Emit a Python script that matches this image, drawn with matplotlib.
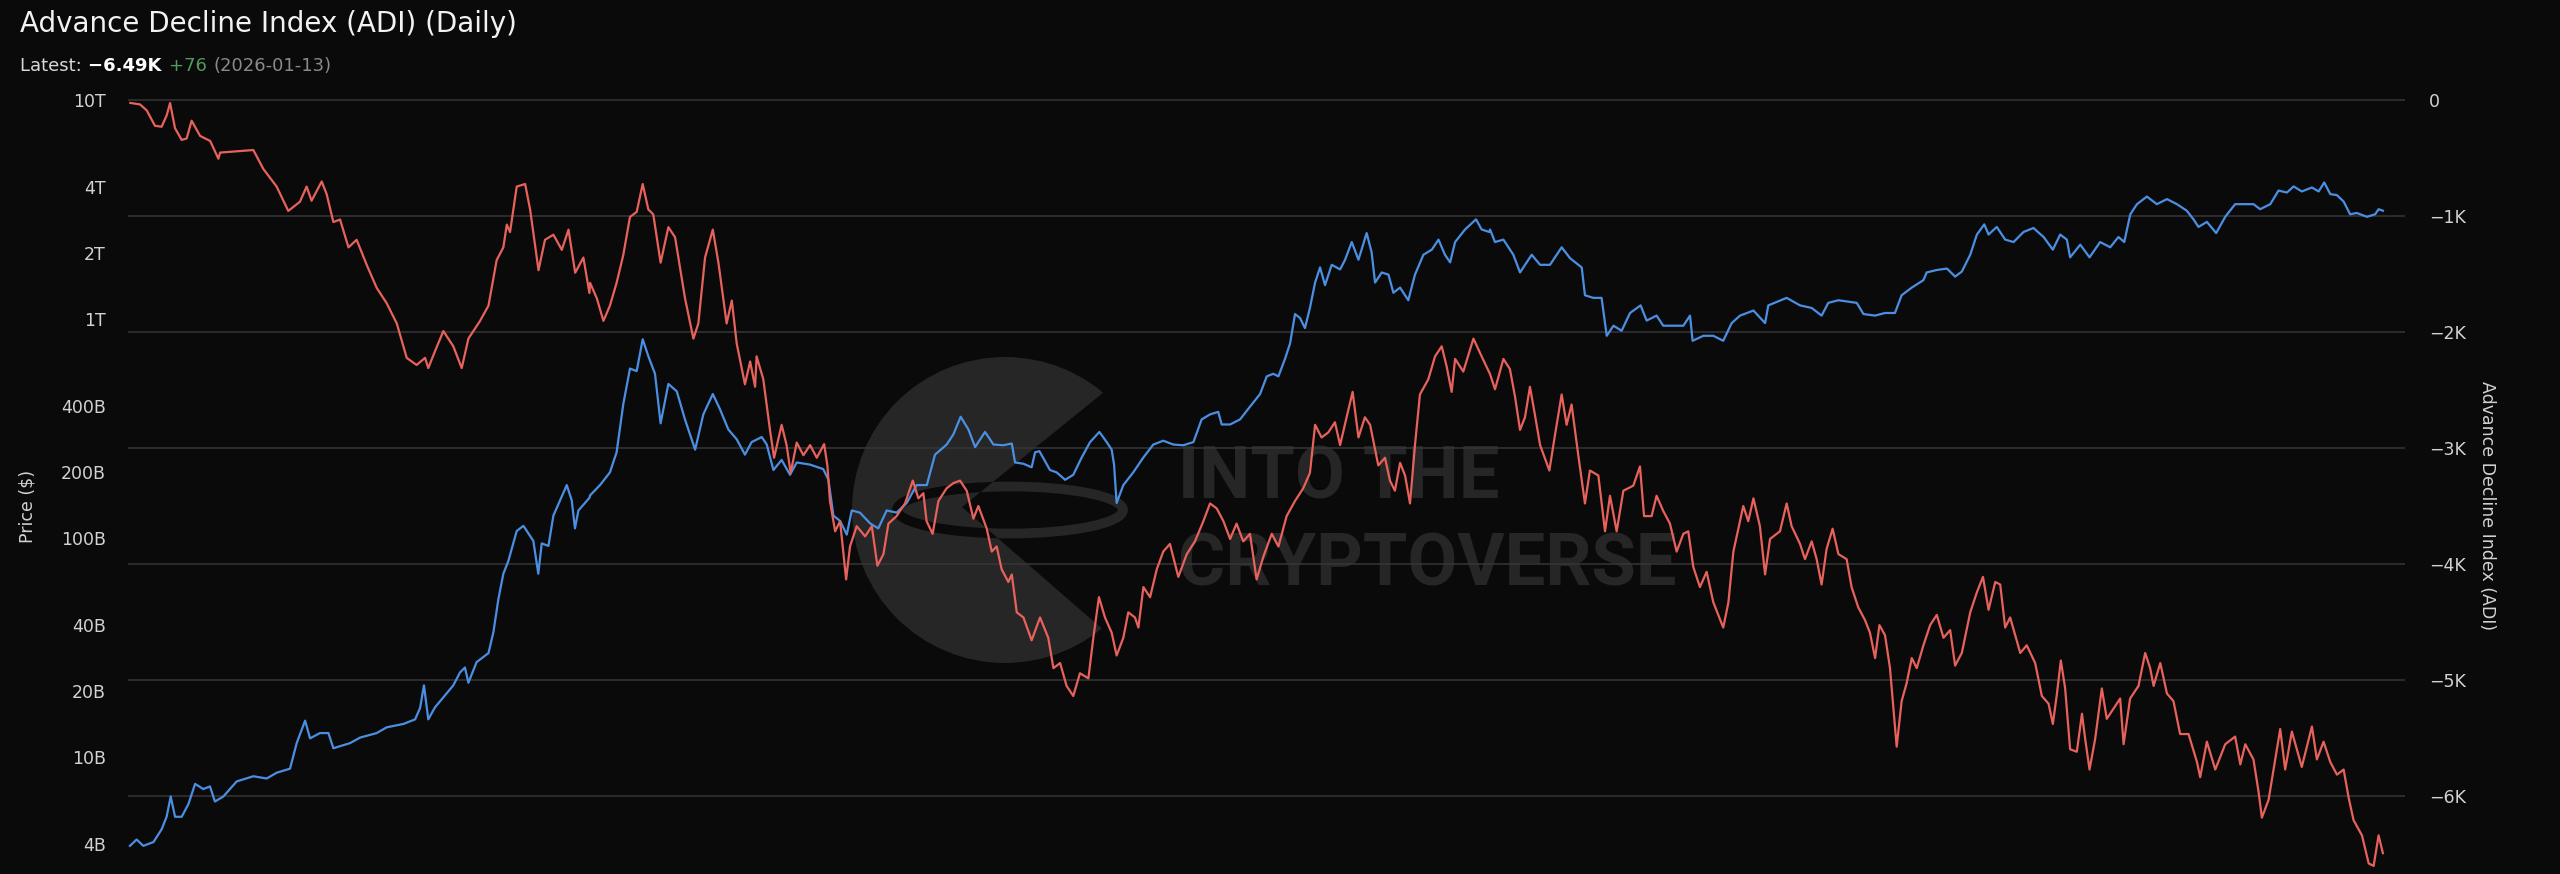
import matplotlib
matplotlib.use("Agg")
import matplotlib.pyplot as plt
import matplotlib.transforms as mtransforms
from matplotlib.patches import Wedge, Ellipse, Circle
from matplotlib.ticker import FixedLocator, NullLocator

# Advance Decline Index (ADI), values in units
adi_year = [
    2015.63, 2015.675, 2015.706, 2015.744, 2015.775, 2015.798, 2015.814, 2015.837, 2015.868, 2015.891,
    2015.914, 2015.953, 2016.0, 2016.038, 2016.046, 2016.2, 2016.246, 2016.308, 2016.362, 2016.416,
    2016.447, 2016.47, 2016.517, 2016.54, 2016.571, 2016.602, 2016.641, 2016.679, 2016.726, 2016.772,
    2016.818, 2016.865, 2016.911, 2016.957, 2016.996, 2017.011, 2017.042, 2017.081, 2017.127, 2017.166,
    2017.197, 2017.251, 2017.29, 2017.328, 2017.359, 2017.375, 2017.39, 2017.421, 2017.46, 2017.483,
    2017.522, 2017.552, 2017.591, 2017.63, 2017.661, 2017.692, 2017.73, 2017.758,
    2017.761, 2017.792, 2017.823, 2017.853, 2017.884, 2017.915, 2017.946, 2017.977, 2018.005, 2018.031,
    2018.054, 2018.088, 2018.124, 2018.155, 2018.201, 2018.24, 2018.263, 2018.294, 2018.33, 2018.356,
    2018.394, 2018.418, 2018.441, 2018.479, 2018.503, 2018.526, 2018.533, 2018.564, 2018.595, 2018.614,
    2018.649, 2018.672, 2018.691, 2018.719, 2018.75, 2018.781, 2018.812, 2018.846, 2018.861, 2018.873,
    2018.897, 2018.92, 2018.948, 2018.966, 2018.997, 2019.036, 2019.067, 2019.093, 2019.121, 2019.144,
    2019.182, 2019.221, 2019.257, 2019.283, 2019.306, 2019.321, 2019.349, 2019.376, 2019.414, 2019.445,
    2019.476, 2019.507, 2019.538, 2019.561, 2019.6, 2019.623, 2019.646, 2019.669, 2019.7, 2019.716,
    2019.739, 2019.77, 2019.808,
    2019.847, 2019.885, 2019.909, 2019.94, 2019.97, 2020.001, 2020.032, 2020.071, 2020.094, 2020.12,
    2020.148, 2020.179, 2020.202, 2020.233, 2020.256, 2020.287, 2020.303, 2020.326, 2020.357, 2020.388,
    2020.418, 2020.449, 2020.488, 2020.527, 2020.565, 2020.604, 2020.635, 2020.666, 2020.697, 2020.728,
    2020.758, 2020.789, 2020.82, 2020.851, 2020.882, 2020.921, 2020.952, 2020.99, 2021.029, 2021.067,
    2021.098, 2021.122, 2021.152, 2021.183, 2021.214, 2021.238, 2021.268, 2021.296, 2021.323, 2021.353,
    2021.377, 2021.415, 2021.446, 2021.469, 2021.492, 2021.516, 2021.539, 2021.562, 2021.585, 2021.608,
    2021.647, 2021.678, 2021.709, 2021.732, 2021.755, 2021.771, 2021.809, 2021.856, 2021.894,
    2021.933, 2021.956, 2021.995, 2022.025, 2022.049, 2022.072, 2022.095, 2022.118, 2022.141, 2022.165,
    2022.208, 2022.234, 2022.265, 2022.288, 2022.311, 2022.342, 2022.373, 2022.396, 2022.435, 2022.466,
    2022.489, 2022.52, 2022.551, 2022.597, 2022.628, 2022.647, 2022.682, 2022.705, 2022.736, 2022.767,
    2022.798, 2022.829, 2022.852, 2022.875, 2022.906, 2022.937, 2022.968, 2023.014, 2023.038, 2023.061,
    2023.107, 2023.13, 2023.154, 2023.184, 2023.208, 2023.231, 2023.277, 2023.308, 2023.331, 2023.37,
    2023.393, 2023.424, 2023.447, 2023.47, 2023.493, 2023.521, 2023.548, 2023.586, 2023.609, 2023.64,
    2023.671, 2023.694, 2023.718, 2023.738, 2023.764, 2023.787, 2023.818, 2023.841, 2023.864, 2023.888,
    2023.911, 2023.942, 2023.973, 2024.004,
    2024.035, 2024.066, 2024.089, 2024.12, 2024.159, 2024.19, 2024.218, 2024.244, 2024.275, 2024.298,
    2024.321, 2024.344, 2024.391, 2024.421, 2024.46, 2024.491, 2024.522, 2024.542, 2024.561, 2024.579,
    2024.599, 2024.622, 2024.653, 2024.677, 2024.692, 2024.712, 2024.738, 2024.769, 2024.792, 2024.823,
    2024.854, 2024.87, 2024.9, 2024.939, 2024.97, 2024.993, 2025.009, 2025.04, 2025.071, 2025.101,
    2025.132, 2025.171, 2025.21, 2025.225, 2025.256, 2025.295, 2025.341, 2025.387, 2025.411, 2025.434,
    2025.472, 2025.496, 2025.511, 2025.542, 2025.565, 2025.596, 2025.619, 2025.65, 2025.696, 2025.743,
    2025.766, 2025.797, 2025.828, 2025.859, 2025.89, 2025.913, 2025.936, 2025.975, 2026.006, 2026.029,
    2026.052, 2026.072,
]
adi_value = [
    -22, -35, -87, -219, -227, -131, -22, -240, -341, -328,
    -175, -306, -350, -503, -450, -428, -590, -743, -953, -874,
    -743, -865, -699, -809, -1049, -1027, -1267, -1202, -1420, -1617,
    -1748, -1923, -2220, -2281, -2220, -2308, -2163, -1989, -2120, -2308,
    -2054, -1901, -1770, -1377, -1267, -1071, -1136, -743, -721, -940,
    -1464, -1202, -1158, -1289, -1114, -1486, -1355, -1661,
    -1573, -1705, -1901, -1770, -1573, -1333, -1005, -962, -721, -940,
    -983, -1399, -1093, -1180, -1705, -2054, -1923, -1355, -1114, -1399,
    -1923, -1726, -2098, -2448, -2251, -2469, -2207, -2404, -2841, -3081,
    -2797, -2972, -3212, -2950, -3059, -2972, -3081, -2963, -3147, -3453,
    -3715, -3628, -4130, -3846, -3671, -3759, -3671, -4012, -3912, -3649,
    -3584, -3475, -3278, -3431, -3387, -3628, -3737, -3453, -3344, -3300,
    -3278, -3365, -3606, -3497, -3693, -3890, -3846, -4043, -4152, -4087,
    -4414, -4458, -4655,
    -4458, -4633, -4895, -4851, -5048, -5135, -4939, -4983, -4633, -4283,
    -4458, -4589, -4786, -4633, -4414, -4458, -4545, -4196, -4283, -4043,
    -3890, -3824, -4108, -3912, -3802, -3628, -3475, -3518, -3628, -3781,
    -3649, -3802, -3737, -4130, -3934, -3737, -3846, -3584, -3453, -3344,
    -3212, -2797, -2906, -2863, -2775, -2972, -2732, -2513, -2906, -2732,
    -2797, -3147, -3081, -3278, -3365, -3125, -3234, -3475, -2972, -2535,
    -2404, -2207, -2120, -2295, -2513, -2229, -2338, -2054, -2207,
    -2360, -2491, -2229, -2316, -2557, -2841, -2732, -2469, -2710, -2972,
    -3191, -2885, -2535, -2797, -2622, -3059, -3475, -3191, -3234, -3715,
    -3409, -3715, -3365, -3322, -3156, -3584, -3584, -3409, -3540, -3649,
    -3890, -3737, -3715, -4021, -4196, -4065, -4327, -4545, -4327, -3890,
    -3497, -3628, -3431, -3671, -4087, -3781, -3715, -3475, -3671, -3824,
    -3955, -3802, -3955, -4174, -3868, -3693, -3912, -3955, -4196, -4371,
    -4480, -4589, -4808, -4524, -4611, -4895, -5572, -5179, -5026, -4808,
    -4895, -4698, -4524, -4436,
    -4633, -4567, -4873, -4764, -4414, -4240, -4108, -4392, -4152, -4174,
    -4545, -4458, -4764, -4698, -4851, -5135, -5201, -5376, -5114, -4829,
    -5070, -5594, -5616, -5288, -5507, -5769, -5507, -5070, -5332, -5245,
    -5157, -5551, -5157, -5048, -4764, -4895, -5048, -4851, -5114, -5179,
    -5463, -5463, -5704, -5835, -5529, -5769, -5551, -5485, -5725, -5551,
    -5682, -5966, -6184, -6031, -5769, -5420, -5769, -5442, -5747, -5398,
    -5682, -5529, -5704, -5813, -5769, -6010, -6206, -6337, -6578, -6600,
    -6337, -6490,
]

# Price (total market cap), values in billions of dollars
cap_year = [
    2015.628, 2015.659, 2015.69, 2015.737, 2015.775, 2015.798, 2015.817, 2015.837, 2015.868, 2015.899,
    2015.93, 2015.968, 2015.999, 2016.022, 2016.061, 2016.123, 2016.2, 2016.262, 2016.308, 2016.37,
    2016.401, 2016.44, 2016.463, 2016.509, 2016.548, 2016.571, 2016.648, 2016.695, 2016.772, 2016.818,
    2016.896, 2016.95, 2016.973, 2016.991, 2017.011, 2017.042, 2017.089, 2017.127, 2017.158, 2017.181,
    2017.197, 2017.235, 2017.29, 2017.313, 2017.336, 2017.359, 2017.382, 2017.421, 2017.452, 2017.498,
    2017.521, 2017.537, 2017.568, 2017.591, 2017.653, 2017.676, 2017.691, 2017.707, 2017.758,
    2017.761, 2017.807, 2017.853, 2017.884, 2017.915, 2017.946, 2017.977, 2018.005, 2018.031, 2018.062,
    2018.088, 2018.124, 2018.163, 2018.201, 2018.248, 2018.286, 2018.33, 2018.363, 2018.402, 2018.441,
    2018.479, 2018.51, 2018.557, 2018.58, 2018.611, 2018.649, 2018.688, 2018.719, 2018.781, 2018.842,
    2018.866, 2018.889, 2018.92, 2018.951, 2018.974, 2019.012, 2019.059, 2019.097, 2019.136, 2019.182,
    2019.229, 2019.275, 2019.322, 2019.36, 2019.414, 2019.445, 2019.479, 2019.515, 2019.546, 2019.592,
    2019.631, 2019.677, 2019.716, 2019.731, 2019.77, 2019.808, 2019.824, 2019.844,
    2019.847, 2019.893, 2019.924, 2019.963, 2020.001, 2020.04, 2020.079, 2020.122, 2020.156, 2020.179,
    2020.19, 2020.202, 2020.233, 2020.279, 2020.326, 2020.372, 2020.418, 2020.465, 2020.511, 2020.558,
    2020.596, 2020.635, 2020.673, 2020.689, 2020.728, 2020.774, 2020.82, 2020.867, 2020.898, 2020.928,
    2020.952, 2020.983, 2021.006, 2021.029, 2021.052, 2021.075, 2021.098, 2021.122, 2021.145, 2021.168,
    2021.199, 2021.238, 2021.261, 2021.292, 2021.323, 2021.361, 2021.384, 2021.4, 2021.431, 2021.462,
    2021.485, 2021.516, 2021.554, 2021.585, 2021.624, 2021.663, 2021.694, 2021.724, 2021.748, 2021.771,
    2021.817, 2021.868, 2021.894, 2021.93,
    2021.933, 2021.956, 2021.995, 2022.041, 2022.072, 2022.126, 2022.165, 2022.211, 2022.265, 2022.304,
    2022.358, 2022.373, 2022.412, 2022.45, 2022.474, 2022.505, 2022.543, 2022.582, 2022.631, 2022.659,
    2022.705, 2022.736, 2022.783, 2022.829, 2022.86, 2022.872, 2022.922, 2022.968, 2023.014, 2023.053,
    2023.092, 2023.154, 2023.208, 2023.223, 2023.308, 2023.37, 2023.424, 2023.47, 2023.501, 2023.548,
    2023.633, 2023.664, 2023.718, 2023.764, 2023.81, 2023.841, 2023.888, 2023.942, 2023.957, 2024.004,
    2024.051, 2024.089, 2024.12, 2024.159, 2024.19, 2024.224, 2024.244, 2024.282, 2024.321, 2024.36,
    2024.406, 2024.452, 2024.499, 2024.542, 2024.576, 2024.607, 2024.622, 2024.669, 2024.712, 2024.761,
    2024.808, 2024.846, 2024.873, 2024.901, 2024.932, 2024.978, 2025.024, 2025.071, 2025.117, 2025.163,
    2025.194, 2025.217, 2025.256, 2025.299, 2025.341, 2025.387, 2025.434, 2025.472, 2025.503, 2025.55,
    2025.588, 2025.627, 2025.658, 2025.696, 2025.743, 2025.774, 2025.8, 2025.828, 2025.859, 2025.89,
    2025.92, 2025.951, 2025.998, 2026.036, 2026.052, 2026.072,
]
cap_billions = [
    3.94, 4.21, 3.94, 4.10, 4.69, 5.35, 6.62, 5.35, 5.35, 6.11,
    7.56, 7.16, 7.36, 6.28, 6.62, 7.76, 8.19, 8.0, 8.5, 8.87,
    11.6, 14.7, 12.2, 12.9, 12.9, 11.0, 11.6, 12.3, 12.9, 13.7,
    14.2, 14.9, 16.8, 21.3, 14.9, 16.9, 19.2, 21.3, 24.4, 25.7,
    21.9, 27.2, 29.9, 37.3, 52.8, 68.9, 78.7, 108, 114, 97.3,
    68.9, 94.8, 92.3, 127, 175, 149, 111, 134, 153,
    157, 175, 200, 247, 410, 596, 580, 811, 679, 564,
    335, 507, 469, 349, 254, 368, 456, 389, 314, 283,
    241, 275, 290, 268, 205, 228, 195, 222, 217, 207,
    185, 127, 120, 104, 134, 131, 117, 111, 134, 131,
    145, 175, 175, 241, 268, 298, 359, 314, 261, 306,
    268, 266, 271, 222, 219, 211, 247, 250,
    247, 205, 200, 185, 195, 234, 275, 306, 275, 254,
    217, 145, 175, 200, 234, 268, 279, 268, 266, 275,
    349, 368, 378, 331, 331, 349, 399, 456, 549, 564,
    549, 662, 776, 1057, 1014, 912, 1127, 1472, 1726, 1432,
    1774, 1690, 1871, 2254, 1871, 2477, 2023, 1472, 1637, 1600,
    1322, 1396, 1222, 1600, 1972, 2080, 2312, 1972, 1820, 2254,
    2572, 2862, 2572, 2505,
    2572, 2254, 2312, 1972, 1637, 1972, 1774, 1774, 2133, 1901,
    1726, 1288, 1253, 1253, 841, 935, 887, 1069, 1158, 987,
    1040, 935, 935, 935, 1040, 798, 841, 841, 798, 961,
    1040, 1097, 961, 1158, 1253, 1158, 1127, 1040, 1189, 1222,
    1189, 1057, 1040, 1069, 1069, 1288, 1396, 1510, 1637, 1680,
    1706, 1567, 1652, 1972, 2439, 2715, 2439, 2642, 2312, 2254,
    2505, 2613, 2377, 2080, 2439, 2312, 1919, 2193, 1919, 2254,
    2133, 2377, 2254, 3018, 3357, 3637, 3357, 3540, 3357, 3133,
    2862, 2642, 2786, 2477, 2938, 3357, 3357, 3357, 3184, 3357,
    3873, 3793, 4046, 3837, 4000, 3837, 4217, 3733, 3690, 3451,
    3018, 3060, 2938, 3018, 3184, 3133,
]

price_ticks = [4e9, 1e10, 2e10, 4e10, 1e11, 2e11, 4e11, 1e12, 2e12, 4e12, 1e13]
price_labels = ["4B", "10B", "20B", "40B", "100B", "200B", "400B", "1T", "2T", "4T", "10T"]
adi_ticks = [0, -1000, -2000, -3000, -4000, -5000, -6000]
adi_labels = ["0", "\u22121K", "\u22122K", "\u22123K", "\u22124K", "\u22125K", "\u22126K"]

BG = "#0a0a0a"
RED = "#e8625c"
BLUE = "#4b8fe3"
GRID = "#363636"
TICK = "#d2d2d2"
MARK = "#262626"

fig = plt.figure(figsize=(25.6, 8.74), dpi=100, facecolor=BG)

# axes run a bit below the figure edge, the screenshot is cut at the bottom
ax = fig.add_axes([0.05, -0.0526, 0.8895, 0.9473])
ax.patch.set_visible(False)
ax2 = ax.twinx()
ax2.patch.set_visible(False)

# watermark logo (pixel coords, origin bottom-left), drawn behind the axes
px = mtransforms.IdentityTransform()
fig.patches.append(Circle((1005, 364), 153, transform=px, facecolor=MARK,
                          edgecolor="none", zorder=-3))
mouth = Wedge((962, 367), 210, -41, 39, transform=px, facecolor=BG,
              edgecolor="none", zorder=-2.9)
fig.patches.append(mouth)
fig.patches.append(Ellipse((1010, 364), 226, 47, transform=px, facecolor="none",
                           edgecolor=BG, linewidth=7, zorder=-2.8))
ring = Ellipse((1010, 364), 226, 47, transform=px, facecolor="none",
               edgecolor=MARK, linewidth=7, zorder=-2.7)
fig.patches.append(ring)
ring.set_clip_path(Wedge((962, 367), 210, -41, 39, transform=px))
fig.text(1178 / 2560, 1 - 498 / 874, "INTO THE", fontsize=52, fontweight="bold",
         family="Roboto", color=MARK, ha="left", va="baseline", zorder=-2)
fig.text(1178 / 2560, 1 - 585 / 874, "CRYPTOVERSE", fontsize=52, fontweight="bold",
         family="Roboto", color=MARK, ha="left", va="baseline", zorder=-2)

# price axis (left, log)
ax.set_yscale("log")
ax.plot(cap_year, [v * 1e9 for v in cap_billions], color=BLUE, lw=1.6, zorder=3)
ax.set_ylim(10 ** 9.257, 10 ** 13.038)
ax.set_xlim(2015.619, 2026.175)
ax.yaxis.set_major_locator(FixedLocator(price_ticks))
ax.yaxis.set_minor_locator(NullLocator())
ax.set_yticklabels(price_labels)
ax.tick_params(axis="y", length=0, pad=16, labelsize=12.5, colors=TICK)
ax.set_ylabel("Price ($)", color=TICK, fontsize=12.5)
ax.yaxis.set_label_coords(-0.0404, 0.5)

# ADI axis (right)
ax2.plot(adi_year, adi_value, color=RED, lw=1.6, zorder=3)
ax2.set_ylim(-7066, 72)
ax2.set_yticks(adi_ticks)
ax2.set_yticklabels(adi_labels)
ax2.tick_params(axis="y", length=0, pad=17, labelsize=12.5, colors=TICK)
ax2.set_ylabel("Advance Decline Index (ADI)", color=TICK, fontsize=12.5, rotation=270,
               va="center")
ax2.yaxis.set_label_coords(1.036, 0.5)

# grid lines follow the ADI ticks but sit under both lines
grid_tr = mtransforms.blended_transform_factory(ax.transAxes, ax2.transData)
for t in adi_ticks:
    ax.plot([0, 1], [t, t], transform=grid_tr, color=GRID, lw=1.1, zorder=1)

for a in (ax, ax2):
    a.xaxis.set_visible(False)
    for s in a.spines.values():
        s.set_visible(False)

# title and latest-value line
fig.text(20 / 2560, 1 - 32 / 874, "Advance Decline Index (ADI) (Daily)", fontsize=20,
         color="#f2f2f2", ha="left", va="baseline")
renderer = fig.canvas.get_renderer()
x = 20
base_y = 1 - 71 / 874
for txt, col, wt in [("Latest: ", "#d8d8d8", "normal"), ("\u22126.49K ", "#ffffff", "bold"),
                     ("+76 ", "#4f9a5f", "normal"), ("(2026-01-13)", "#8a8a8a", "normal")]:
    t = fig.text(x / 2560, base_y, txt, fontsize=13, color=col, fontweight=wt,
                 ha="left", va="baseline")
    x = t.get_window_extent(renderer).x1 + 1

fig.savefig("out.png", dpi=100, facecolor=BG)
